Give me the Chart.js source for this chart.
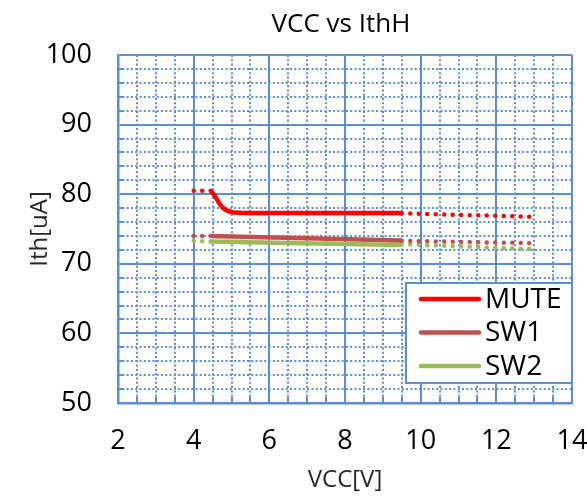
<!DOCTYPE html>
<html>
<head>
<meta charset="utf-8">
<script src="https://cdn.jsdelivr.net/npm/chart.js@4"></script>
<style>
  html, body { margin: 0; padding: 0; background: #fff; }
  #wrap { width: 587px; height: 501px; }
</style>
</head>
<body>
<div id="wrap"><canvas id="ithChart"></canvas></div>
<script>
const seriesNames = ["MUTE", "SW1", "SW2"];
const seriesColors = ["#ff0000", "#c0504d", "#9bbb59"];

// measured part (solid lines)
const muteVcc = [4.45, 4.5, 4.6, 4.7, 4.8, 4.9, 5.0, 5.2, 6, 7, 8, 9, 9.5];
const muteIth = [80.5, 80.2, 79.4, 78.5, 77.9, 77.6, 77.45, 77.35, 77.3, 77.3, 77.3, 77.3, 77.3];
const sw1Vcc = [4.45, 9.5];
const sw1Ith = [74.0, 73.35];
const sw2Vcc = [4.45, 9.5];
const sw2Ith = [73.2, 72.7];

// extrapolated parts (dotted lines)
const lowVcc = [4.0, 4.45];
const muteLow = [80.5, 80.5];
const sw1Low = [74.0, 74.0];
const sw2Low = [73.3, 73.2];
const highVcc = [9.5, 13];
const muteHigh = [77.25, 76.75];
const sw1High = [73.3, 72.95];
const sw2High = [72.8, 72.1];

const xMin = 2, xMax = 14, xStep = 2, xMinor = 0.5;
const yMin = 50, yMax = 100, yStep = 10, yMinor = 2;

const gridBlue = "#5b8ed6";
const fontFamily = "'Open Sans', sans-serif";

function pts(xs, ys) {
  return xs.map((x, i) => ({ x: x, y: ys[i] }));
}

function solidSet(idx, xs, ys) {
  return {
    label: seriesNames[idx],
    data: pts(xs, ys),
    borderColor: seriesColors[idx],
    borderWidth: 4.5,
    pointRadius: 0,
    cubicInterpolationMode: "monotone",
  };
}

function dottedSet(idx, xs, ys) {
  return {
    label: seriesNames[idx] + "_ext",
    data: pts(xs, ys),
    borderColor: seriesColors[idx],
    borderWidth: 4.5,
    borderDash: [0, 8.5],
    borderCapStyle: "round",
    pointRadius: 0,
  };
}

function isMajor(v, step) {
  return Math.abs(v / step - Math.round(v / step)) < 1e-6;
}

// dotted minor grid lines + small inside minor ticks
const minorGrid = {
  id: "minorGrid",
  beforeDatasetsDraw(chart) {
    const ctx = chart.ctx;
    const xs = chart.scales.x, ys = chart.scales.y;
    const a = chart.chartArea;
    ctx.save();
    ctx.strokeStyle = gridBlue;
    ctx.lineWidth = 2;
    ctx.setLineDash([2, 2.3]);
    for (let v = xMin + xMinor; v < xMax; v += xMinor) {
      if (isMajor(v, xStep)) continue;
      const px = Math.round(xs.getPixelForValue(v));
      ctx.beginPath();
      ctx.moveTo(px, a.top);
      ctx.lineTo(px, a.bottom);
      ctx.stroke();
    }
    for (let v = yMin + yMinor; v < yMax; v += yMinor) {
      if (isMajor(v, yStep)) continue;
      const py = Math.round(ys.getPixelForValue(v));
      ctx.beginPath();
      ctx.moveTo(a.left, py);
      ctx.lineTo(a.right, py);
      ctx.stroke();
    }
    ctx.setLineDash([]);
    for (let v = xMin + xMinor; v < xMax; v += xMinor) {
      if (isMajor(v, xStep)) continue;
      const px = Math.round(xs.getPixelForValue(v));
      ctx.beginPath();
      ctx.moveTo(px, a.bottom);
      ctx.lineTo(px, a.bottom - 6);
      ctx.stroke();
    }
    for (let v = yMin + yMinor; v < yMax; v += yMinor) {
      if (isMajor(v, yStep)) continue;
      const py = Math.round(ys.getPixelForValue(v));
      ctx.beginPath();
      ctx.moveTo(a.left, py);
      ctx.lineTo(a.left + 6, py);
      ctx.stroke();
    }
    ctx.restore();
  },
};

// title over plot area + legend box inside plot
const decorations = {
  id: "decorations",
  afterDraw(chart) {
    const ctx = chart.ctx;
    const a = chart.chartArea;
    ctx.save();
    ctx.fillStyle = "#000";
    ctx.font = "26px " + fontFamily;
    ctx.textAlign = "center";
    ctx.textBaseline = "middle";
    ctx.fillText("VCC vs IthH", (a.left + a.right) / 2 - 4, 25);

    const boxL = 406, boxT = 283, boxR = a.right, boxB = 383;
    ctx.fillStyle = "#fff";
    ctx.fillRect(boxL, boxT, boxR - boxL, boxB - boxT);
    ctx.strokeStyle = gridBlue;
    ctx.lineWidth = 2;
    ctx.strokeRect(boxL, boxT, boxR - boxL, boxB - boxT);

    ctx.font = "28px " + fontFamily;
    ctx.textAlign = "left";
    ctx.lineCap = "round";
    seriesNames.forEach((name, i) => {
      const y = 299 + i * 33.5;
      ctx.strokeStyle = seriesColors[i];
      ctx.lineWidth = 4.5;
      ctx.beginPath();
      ctx.moveTo(421, y);
      ctx.lineTo(479, y);
      ctx.stroke();
      ctx.fillStyle = "#000";
      ctx.fillText(name, 485, y + 1);
    });
    ctx.restore();
  },
};

const config = {
  type: "line",
  data: {
    datasets: [
      solidSet(0, muteVcc, muteIth),
      solidSet(1, sw1Vcc, sw1Ith),
      solidSet(2, sw2Vcc, sw2Ith),
      dottedSet(0, lowVcc, muteLow),
      dottedSet(1, lowVcc, sw1Low),
      dottedSet(2, lowVcc, sw2Low),
      dottedSet(0, highVcc, muteHigh),
      dottedSet(1, highVcc, sw1High),
      dottedSet(2, highVcc, sw2High),
    ],
  },
  options: {
    responsive: true,
    maintainAspectRatio: false,
    animation: false,
    layout: { padding: { top: 55, right: 15, left: 0, bottom: 0 } },
    plugins: {
      legend: { display: false },
      tooltip: { enabled: false },
    },
    scales: {
      x: {
        type: "linear",
        min: xMin,
        max: xMax,
        ticks: {
          stepSize: xStep,
          color: "#000",
          padding: 22,
          font: { family: fontFamily, size: 27 },
        },
        grid: { color: gridBlue, lineWidth: 2, drawTicks: false },
        border: { color: gridBlue, width: 2.5 },
        title: {
          display: true,
          text: "VCC[V]",
          color: "#262626",
          font: { family: fontFamily, size: 24 },
          padding: { top: 0, bottom: 6 },
        },
        afterFit(scale) {
          scale.height = 98;
          scale.paddingLeft = 0;
          scale.paddingRight = 0;
        },
      },
      y: {
        type: "linear",
        min: yMin,
        max: yMax,
        ticks: {
          stepSize: yStep,
          color: "#000",
          padding: 26,
          font: { family: fontFamily, size: 27 },
        },
        grid: { color: gridBlue, lineWidth: 2, drawTicks: false },
        border: { color: gridBlue, width: 2.5 },
        title: {
          display: true,
          text: "Ith[uA]",
          color: "#262626",
          font: { family: fontFamily, size: 24 },
          padding: { top: 26, bottom: 0 },
        },
        afterFit(scale) {
          scale.width = 118;
          scale.paddingTop = 0;
          scale.paddingBottom = 0;
        },
      },
    },
  },
  plugins: [minorGrid, decorations],
};

const ithChart = new Chart(document.getElementById("ithChart"), config);
</script>
</body>
</html>
